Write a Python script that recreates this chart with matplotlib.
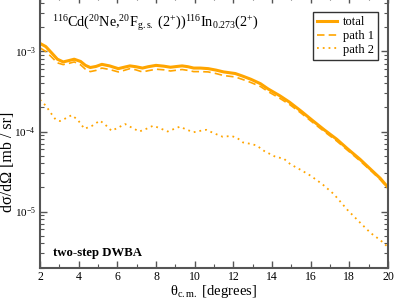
import matplotlib
matplotlib.use("Agg")
import matplotlib.pyplot as plt
from matplotlib.ticker import LogLocator, MultipleLocator, NullFormatter

plt.rcParams['font.family'] = ['Liberation Serif', 'DejaVu Serif']
plt.rcParams['mathtext.fontset'] = 'custom'
plt.rcParams['mathtext.rm'] = 'Liberation Serif'
plt.rcParams['mathtext.it'] = 'Liberation Serif:italic'
plt.rcParams['mathtext.bf'] = 'Liberation Serif:bold'

# ---- data ----
theta_total = [2.0, 2.3, 2.6, 2.9, 3.2, 3.5, 3.77, 4.1, 4.35, 4.6, 4.9, 5.2, 5.6, 6.05,
               6.35, 6.65, 6.95, 7.3, 7.6, 8.0, 8.4, 8.75, 9.1, 9.35, 9.65, 9.95,
               10.3, 10.7, 11.1, 11.5, 12.1, 12.5, 12.9, 13.4, 13.8, 14.4, 14.9,
               15.5, 16.1, 16.7, 17.35, 17.9, 18.55, 19.2, 19.6, 20.0]
total = [1.26e-3, 1.15e-3, 9.6e-4, 8.0e-4, 7.4e-4, 7.7e-4, 8.0e-4, 7.5e-4, 6.7e-4, 6.3e-4,
         6.5e-4, 6.9e-4, 6.6e-4, 6.1e-4, 6.35e-4, 6.6e-4, 6.45e-4, 6.2e-4, 6.45e-4, 6.7e-4,
         6.55e-4, 6.35e-4, 6.5e-4, 6.6e-4, 6.45e-4, 6.2e-4, 6.2e-4, 6.1e-4, 5.85e-4, 5.55e-4,
         5.3e-4, 4.9e-4, 4.5e-4, 3.96e-4, 3.4e-4, 2.8e-4, 2.33e-4, 1.8e-4, 1.37e-4, 1.05e-4,
         8.0e-5, 6.1e-5, 4.5e-5, 3.2e-5, 2.6e-5, 2.0e-5]
path1 = [1.11e-3, 1.0e-3, 8.5e-4, 7.2e-4, 6.85e-4, 7.1e-4, 7.4e-4, 6.8e-4, 6.0e-4, 5.6e-4,
         5.8e-4, 6.2e-4, 5.95e-4, 5.55e-4, 5.8e-4, 6.1e-4, 5.9e-4, 5.55e-4, 5.75e-4, 6.0e-4,
         5.9e-4, 5.7e-4, 5.85e-4, 5.95e-4, 5.8e-4, 5.6e-4, 5.6e-4, 5.55e-4, 5.3e-4, 5.0e-4,
         4.8e-4, 4.45e-4, 4.1e-4, 3.65e-4, 3.15e-4, 2.6e-4, 2.18e-4, 1.7e-4, 1.3e-4, 1.0e-4,
         7.6e-5, 5.85e-5, 4.3e-5, 3.1e-5, 2.5e-5, 1.95e-5]
theta_path2 = [2.0, 2.3, 2.6, 2.8, 3.03, 3.3, 3.64, 3.95, 4.3, 4.7, 5.1, 5.4, 5.7, 6.05,
               6.4, 6.8, 7.14, 7.5, 7.85, 8.2, 8.6, 8.95, 9.24, 9.6, 9.95, 10.3, 10.6,
               11.0, 11.45, 11.9, 12.2, 12.5, 12.9, 13.2, 13.6, 14.2, 14.6, 14.95, 15.5,
               16.0, 16.6, 17.2, 17.9, 18.5, 19.1, 19.6, 20.0]
path2 = [2.49e-4, 2.1e-4, 1.65e-4, 1.42e-4, 1.35e-4, 1.45e-4, 1.6e-4, 1.4e-4, 1.08e-4, 1.18e-4,
         1.37e-4, 1.2e-4, 1.02e-4, 1.12e-4, 1.24e-4, 1.1e-4, 1.0e-4, 1.08e-4, 1.18e-4, 1.1e-4,
         1.0e-4, 1.08e-4, 1.15e-4, 1.05e-4, 9.8e-5, 1.02e-4, 1.05e-4, 9.5e-5, 8.6e-5, 8.8e-5,
         8.3e-5, 7.3e-5, 7.0e-5, 6.7e-5, 5.7e-5, 4.8e-5, 4.6e-5, 3.9e-5, 3.3e-5, 2.8e-5,
         2.2e-5, 1.65e-5, 1.05e-5, 7.5e-6, 5.4e-6, 4.4e-6, 3.6e-6]
labels = ["total", "path 1", "path 2"]

orange = "#FFA500"
frame = "#555555"

fig = plt.figure(figsize=(3.95, 3.01), dpi=100)
ax = fig.add_axes([40/395, (301-267.5)/301, 348/395, 272/301])

ax.plot(theta_total, total, color=orange, lw=2.2, label=labels[0], solid_joinstyle='round')
ax.plot(theta_total, path1, color=orange, lw=1.2, dashes=(4.5, 2.5), label=labels[1])
ax.plot(theta_path2, path2, color=orange, lw=1.3, dashes=(1, 2.2), label=labels[2])

ax.set_yscale('log')
ax.set_xlim(2, 20)
ax.set_ylim(2e-6, 5e-3)
ax.xaxis.set_major_locator(MultipleLocator(2))
ax.xaxis.set_minor_locator(MultipleLocator(1))
ax.yaxis.set_major_locator(LogLocator(base=10, numticks=10))
ax.yaxis.set_minor_locator(LogLocator(base=10, subs=range(2, 10), numticks=20))
ax.yaxis.set_minor_formatter(NullFormatter())

for s in ax.spines.values():
    s.set_color(frame)
    s.set_linewidth(1.5)
ax.tick_params(which='both', direction='in', top=True, right=True, color=frame,
               labelcolor='black')
ax.tick_params(axis='x', labelsize=8.5, pad=2.5)
ax.tick_params(axis='y', labelsize=8, pad=3)
ax.tick_params(which='major', length=5, width=1.0)
ax.tick_params(which='minor', length=2.8, width=0.8)

fig.text(213/395, 1 - 291.5/301, 'θ$_{\\mathrm{c.m.}}$ [degrees]', ha='center', va='center', fontsize=10.5)
fig.text(8/395, 1 - 162/301, 'dσ/dΩ [mb / sr]', rotation=90, ha='center', va='center', fontsize=11.5)

ax.text(0.0345, 0.884,
        '$^{116}$Cd($^{20}$Ne,$^{20}$F$_{\\mathrm{g.s.}}$ (2$^{+}$))$^{116}$In$_{0.273}$(2$^{+}$)',
        transform=ax.transAxes, ha='left', va='baseline', fontsize=10.2)
ax.text(13/348, 1 - (256 + 4.5)/272, 'two-step DWBA', transform=ax.transAxes,
        ha='left', va='baseline', fontsize=9.2, fontweight='bold')

leg = ax.legend(loc='upper left', bbox_to_anchor=(0.784, 0.938), borderaxespad=0,
                fontsize=9, handlelength=1.6, handletextpad=0.5, labelspacing=0.15,
                fancybox=False, framealpha=1, borderpad=0.3)
leg.get_frame().set_edgecolor('#333333')
leg.get_frame().set_linewidth(1.0)

fig.savefig('out.png', dpi=100)
